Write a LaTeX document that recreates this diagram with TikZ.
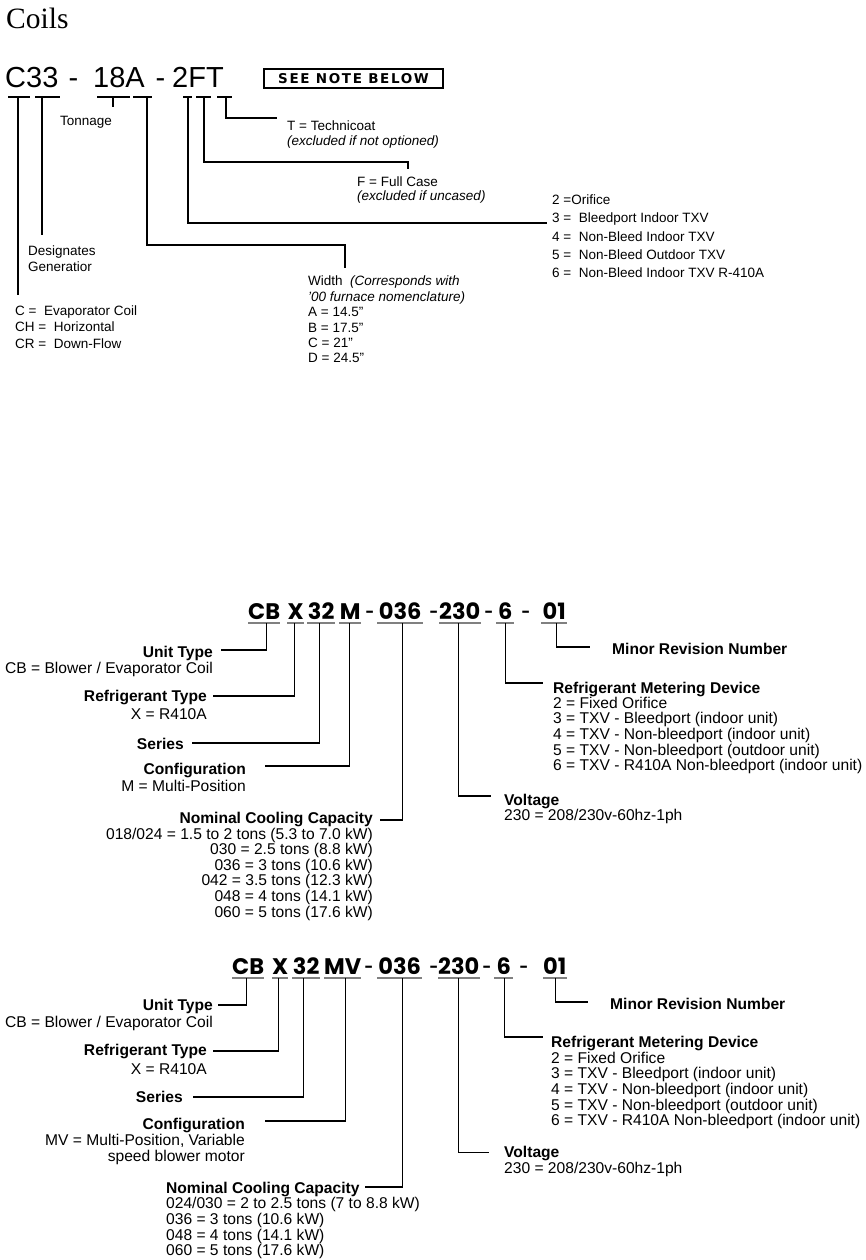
\documentclass[tikz,border=0pt]{standalone}
\usepackage{fontspec}
\setmainfont{Liberation Sans}
\newfontfamily\serifTitle{Liberation Serif}
\newfontfamily\codefont{Poppins}
\newfontfamily\notefont{DejaVu Sans}
\definecolor{ulgray}{RGB}{128,128,128}
\tikzset{
  tconn/.style={draw, line width=1.8pt},
  tuline/.style={fill=black, inner sep=0pt, minimum height=2pt, anchor=west},
  ttxt/.style={anchor=base west, inner sep=0pt, font=\fontsize{13.5}{16}\selectfont},
  titxt/.style={anchor=base west, inner sep=0pt, font=\fontsize{13.5}{16}\selectfont\itshape},
  tcode/.style={anchor=base west, inner sep=0pt, font=\fontsize{29}{30}\selectfont},
  conn/.style={draw, line width=1.3pt},
  uline/.style={draw, line width=2pt, color=ulgray},
  codebox/.style={anchor=base west, inner xsep=0pt, inner ysep=4pt, text depth=0pt, font=\codefont\bfseries\fontsize{22.5}{23}\selectfont},
  cdash/.style={anchor=base west, inner sep=0pt, font=\codefont\bfseries\fontsize{15}{15}\selectfont},
  lbl/.style={anchor=base west, inner sep=0pt, font=\fontsize{15.6}{16}\selectfont},
  lblr/.style={anchor=base east, inner sep=0pt, font=\fontsize{15.6}{16}\selectfont},
  hd/.style={anchor=base west, inner sep=0pt, font=\bfseries\fontsize{15.6}{16}\selectfont},
  hdr/.style={anchor=base east, inner sep=0pt, font=\bfseries\fontsize{15.6}{16}\selectfont},
}
\begin{document}
\begin{tikzpicture}[x=1pt,y=-1pt]
\useasboundingbox[fill=white] (0,0) rectangle (865,1260);

% ================= TOP: Coils =================
\node[anchor=base west, inner sep=0pt, font=\serifTitle\fontsize{29.5}{30}\selectfont] (title) at (6,28.5) {Coils};

\node[tcode] (tC33) at (5,87.5) {C33};
\node[tcode] (tD1) at (68.5,87.5) {-};
\node[tcode] (t18A) at (93,87.5) {18A};
\node[tcode] (tD2) at (155.5,87.5) {-};
\node[tcode] (t2FT) at (172,87.5) {2FT};

\node[draw, line width=1.5pt, minimum width=179pt, minimum height=19pt, inner sep=0pt,
      font=\notefont\bfseries\fontsize{13.5}{13.5}\selectfont\addfontfeatures{LetterSpace=12}] (note) at (353.5,78.5) {SEE NOTE BELOW};

% underlines
\node[tuline, minimum width=22pt] (tuC) at (8,97.5) {};
\node[tuline, minimum width=25pt] (tu33) at (35,97.5) {};
\node[tuline, minimum width=33pt] (tu18) at (97,97.5) {};
\node[tuline, minimum width=19pt] (tuA) at (133,97.5) {};
\node[tuline, minimum width=9pt] (tu2) at (183,97.5) {};
\node[tuline, minimum width=15pt] (tuF) at (196,97.5) {};
\node[tuline, minimum width=15pt] (tuT) at (217,97.5) {};

% connectors
\coordinate (tCend) at (18,295);
\coordinate (t33end) at (42,235);
\coordinate (t18end) at (113,107);
\coordinate (tAb) at (147,245);
\coordinate (tAend) at (345,268);
\coordinate (t2end) at (547,223);
\coordinate (tFb) at (204,162);
\coordinate (tFend) at (408,169);
\coordinate (tTb) at (226,118);
\coordinate (tTend) at (277,118);

\draw[tconn] (tuC.center -| tCend) -- (tCend);
\draw[tconn] (tu33.center -| t33end) -- (t33end);
\draw[tconn] (tu18.center -| t18end) -- (t18end);
\draw[tconn] (tuA.center -| tAb) -- (tAb) -| (tAend);
\draw[tconn] (tu2.center) |- (t2end);
\draw[tconn] (tuF.center -| tFb) -- (tFb) -| (tFend);
\draw[tconn] (tuT.center -| tTb) -- (tTb) -- (tTend);

% top labels
\node[ttxt] (tTon) at (60,126) {Tonnage};
\node[ttxt] (tTec) at (287,131) {T = Technicoat};
\node[titxt] (tTec2) at (287,145.5) {(excluded if not optioned)};
\node[ttxt] (tFul) at (357,186.5) {F = Full Case};
\node[titxt] (tFul2) at (357,200.5) {(excluded if uncased)};
\foreach \t [count=\i] in {{2 =Orifice},{3 = \ Bleedport Indoor TXV},{4 = \ Non-Bleed Indoor TXV},{5 = \ Non-Bleed Outdoor TXV},{6 = \ Non-Bleed Indoor TXV R-410A}}
  \node[ttxt] (tOr\i) at (552,{186.5+18.2*\i}) {\t};
\node[ttxt] (tWid1) at (308,285.9) {Width\ \ \textit{(Corresponds with}};
\node[titxt] (tWid2) at (308,301.3) {'00 furnace nomenclature)};
\foreach \t [count=\i] in {{A = 14.5"},{B = 17.5"},{C = 21"},{D = 24.5"}}
  \node[ttxt] (tWidL\i) at (308,{301.3+15.4*\i}) {\t};
\node[ttxt] (tDes1) at (28,255) {Designates};
\node[ttxt] (tDes2) at (28,271) {Generatior};
\foreach \t [count=\i] in {{C = \ Evaporator Coil},{CH = \ Horizontal},{CR = \ Down-Flow}}
  \node[ttxt] (tCl\i) at (15,{298.7+16.5*\i}) {\t};

% ================= MIDDLE: CBX32M =================
\node[codebox, minimum width=28pt] (mCB) at (248,619) {CB};
\node[codebox, minimum width=17pt] (mX) at (287,619) {X};
\node[codebox, minimum width=28pt] (m32) at (307,619) {32};
\node[codebox, minimum width=22pt] (mM) at (339,619) {M};
\node[cdash] (mD1) at (365.5,617) {-};
\node[codebox, minimum width=46pt] (m036) at (377,619) {036};
\node[cdash] (mD2) at (429.5,617) {-};
\node[codebox, minimum width=39pt] (m230) at (439,619) {230};
\node[cdash] (mD3) at (484.5,617) {-};
\node[codebox, minimum width=18pt] (m6) at (496,619) {6};
\node[cdash] (mD4) at (521.5,617) {-};
\node[codebox, minimum width=26pt] (m01) at (541,619) {01};
\foreach \n in {mCB,mX,m32,mM,m036,m230,m6,m01}
  \draw[uline] (\n.south west) -- (\n.south east);

\coordinate (mUnitC) at (221,650);
\coordinate (mRefC) at (213,696);
\coordinate (mSerC) at (192,743);
\coordinate (mConfC) at (265,766);
\coordinate (mNomC) at (380,820);
\coordinate (mVolC) at (491,796);
\coordinate (mMetC) at (543,683);
\coordinate (mMinC) at (590,647);
\draw[conn] ([xshift=2pt]mCB.south) |- (mUnitC);
\draw[conn] ([xshift=-1pt]mX.south) |- (mRefC);
\draw[conn] ([xshift=-2pt]m32.south) |- (mSerC);
\draw[conn] ([xshift=-1pt]mM.south) |- (mConfC);
\draw[conn] ([xshift=2pt]m036.south) |- (mNomC);
\draw[conn] ([xshift=-1pt]m230.south) |- (mVolC);
\draw[conn] (m6.south) |- (mMetC);
\draw[conn] ([xshift=2pt]m01.south) |- (mMinC);

\node[hdr] (mUnit) at (213,657) {Unit Type};
\node[lblr] (mUnitD) at (213,673) {CB = Blower / Evaporator Coil};
\node[hdr] (mRef) at (207,701) {Refrigerant Type};
\node[lblr] (mRefD) at (207,719) {X = R410A};
\node[hdr] (mSer) at (184,749) {Series};
\node[hdr] (mConf) at (246,774) {Configuration};
\node[lblr] (mConfD) at (246,791) {M = Multi-Position};
\node[hdr] (mNom) at (373,823) {Nominal Cooling Capacity};
\foreach \t [count=\i] in {{018/024 = 1.5 to 2 tons (5.3 to 7.0 kW)},{030 = 2.5 tons (8.8 kW)},{036 = 3 tons (10.6 kW)},{042 = 3.5 tons (12.3 kW)},{048 = 4 tons (14.1 kW)},{060 = 5 tons (17.6 kW)}}
  \node[lblr] (mNomL\i) at (373,{823.4+15.6*\i}) {\t};

\node[hd] (mMin) at (612,654) {Minor Revision Number};
\node[hd] (mMet) at (553,693) {Refrigerant Metering Device};
\foreach \t [count=\i] in {{2 = Fixed Orifice},{3 = TXV - Bleedport (indoor unit)},{4 = TXV - Non-bleedport (indoor unit)},{5 = TXV - Non-bleedport (outdoor unit)},{6 = TXV - R410A Non-bleedport (indoor unit)}}
  \node[lbl] (mMetL\i) at (553,{692.3+15.7*\i}) {\t};
\node[hd] (mVol) at (504,805) {Voltage};
\node[lbl] (mVolD) at (504,820) {230 = 208/230v-60hz-1ph};

% ================= BOTTOM: CBX32MV =================
\node[codebox, minimum width=31pt] (bCB) at (232,974) {CB};
\node[codebox, minimum width=16pt] (bX) at (272,974) {X};
\node[codebox, minimum width=28pt] (b32) at (292,974) {32};
\node[codebox, minimum width=35pt] (bMV) at (324,974) {MV};
\node[cdash] (bD1) at (364.5,972) {-};
\node[codebox, minimum width=45pt] (b036) at (377,974) {036};
\node[cdash] (bD2) at (429.5,972) {-};
\node[codebox, minimum width=39pt] (b230) at (438,974) {230};
\node[cdash] (bD3) at (482.5,972) {-};
\node[codebox, minimum width=19pt] (b6) at (494,974) {6};
\node[cdash] (bD4) at (519.5,972) {-};
\node[codebox, minimum width=22pt] (b01) at (543,974) {01};
\foreach \n in {bCB,bX,b32,bMV,b036,b230,b6,b01}
  \draw[uline] (\n.south west) -- (\n.south east);

\coordinate (bUnitC) at (218,1005);
\coordinate (bRefC) at (213,1051);
\coordinate (bSerC) at (193,1097);
\coordinate (bConfC) at (265,1121);
\coordinate (bNomC) at (365,1187);
\coordinate (bVolC) at (489,1152.7);
\coordinate (bMetC) at (543,1037);
\coordinate (bMinC) at (588,1002);
\draw[conn] ([xshift=-1.5pt]bCB.south) |- (bUnitC);
\draw[conn] ([xshift=-1.5pt]bX.south) |- (bRefC);
\draw[conn] ([xshift=-3pt]b32.south) |- (bSerC);
\draw[conn] ([xshift=2.5pt]bMV.south) |- (bConfC);
\draw[conn] ([xshift=2.5pt]b036.south) |- (bNomC);
\draw[conn] ([xshift=-0.5pt]b230.south) |- (bVolC);
\draw[conn] ([xshift=0.5pt]b6.south) |- (bMetC);
\draw[conn] ([xshift=1pt]b01.south) |- (bMinC);

\node[hdr] (bUnit) at (213,1010.7) {Unit Type};
\node[lblr] (bUnitD) at (213,1027.7) {CB = Blower / Evaporator Coil};
\node[hdr] (bRef) at (207,1055.7) {Refrigerant Type};
\node[lblr] (bRefD) at (207,1074) {X = R410A};
\node[hdr] (bSer) at (183,1102.7) {Series};
\node[hdr] (bConf) at (245,1129) {Configuration};
\node[lblr] (bConfD1) at (245,1145.7) {MV = Multi-Position, Variable};
\node[lblr] (bConfD2) at (245,1161.7) {speed blower motor};
\node[hd] (bNom) at (166,1193) {Nominal Cooling Capacity};
\foreach \t [count=\i] in {{024/030 = 2 to 2.5 tons (7 to 8.8 kW)},{036 = 3 tons (10.6 kW)},{048 = 4 tons (14.1 kW)},{060 = 5 tons (17.6 kW)}}
  \node[lbl] (bNomL\i) at (166,{1193.4+15.55*\i}) {\t};

\node[hd] (bMin) at (610,1009) {Minor Revision Number};
\node[hd] (bMet) at (551,1047) {Refrigerant Metering Device};
\foreach \t [count=\i] in {{2 = Fixed Orifice},{3 = TXV - Bleedport (indoor unit)},{4 = TXV - Non-bleedport (indoor unit)},{5 = TXV - Non-bleedport (outdoor unit)},{6 = TXV - R410A Non-bleedport (indoor unit)}}
  \node[lbl] (bMetL\i) at (551,{1047.3+15.7*\i}) {\t};
\node[hd] (bVol) at (504,1157) {Voltage};
\node[lbl] (bVolD) at (504,1173) {230 = 208/230v-60hz-1ph};
\end{tikzpicture}
\end{document}
